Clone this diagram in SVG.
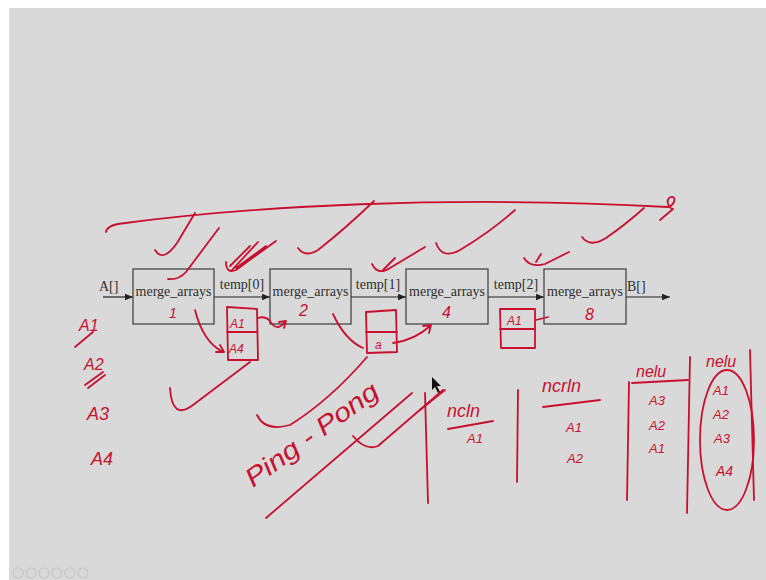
<svg xmlns="http://www.w3.org/2000/svg" width="766" height="580" viewBox="0 0 766 580">
<defs>
<style>
.box{fill:none;stroke:#3a3a3a;stroke-width:1.2}
.lbl{font-family:"Liberation Serif","DejaVu Serif",serif;font-size:14px;fill:#2e2e2e}
.ink{fill:none;stroke:#c8102e;stroke-width:1.8;stroke-linecap:round;stroke-linejoin:round}
.hw{font-family:"Liberation Sans","DejaVu Sans",sans-serif;font-style:italic;fill:#c8102e}
.edge{fill:none;stroke:#222;stroke-width:1.2}
</style>
<marker id="ah" viewBox="0 0 10 10" refX="10" refY="5" markerWidth="8" markerHeight="8" orient="auto" markerUnits="userSpaceOnUse">
<path d="M0,1 L10,5 L0,9 Z" fill="#222"/>
</marker>
</defs>
<rect width="766" height="580" fill="#ffffff"/>
<rect x="9" y="8" width="757" height="572" fill="#d9d9d9"/>

<g id="connectors">
<line class="edge" x1="103" y1="297" x2="133" y2="297" marker-end="url(#ah)"/>
<line class="edge" x1="214" y1="297" x2="270" y2="297" marker-end="url(#ah)"/>
<line class="edge" x1="351" y1="297" x2="406" y2="297" marker-end="url(#ah)"/>
<line class="edge" x1="488" y1="297" x2="544" y2="297" marker-end="url(#ah)"/>
<line class="edge" x1="626" y1="297" x2="670" y2="297" marker-end="url(#ah)"/>
<text class="lbl" x="99" y="291">A[]</text>
<text class="lbl" x="242" y="289" text-anchor="middle">temp[0]</text>
<text class="lbl" x="378" y="289" text-anchor="middle">temp[1]</text>
<text class="lbl" x="516" y="289" text-anchor="middle">temp[2]</text>
<text class="lbl" x="627" y="291">B[]</text>
</g>

<g id="merge1">
<rect class="box" x="133" y="269" width="81" height="55"/>
<text class="lbl" x="173.5" y="296" text-anchor="middle">merge_arrays</text>
</g>
<g id="merge2">
<rect class="box" x="270" y="269" width="81" height="55"/>
<text class="lbl" x="310.5" y="296" text-anchor="middle">merge_arrays</text>
</g>
<g id="merge3">
<rect class="box" x="406" y="269" width="82" height="55"/>
<text class="lbl" x="447" y="296" text-anchor="middle">merge_arrays</text>
</g>
<g id="merge4">
<rect class="box" x="544" y="269" width="82" height="55"/>
<text class="lbl" x="585" y="296" text-anchor="middle">merge_arrays</text>
</g>

<g id="annotations">
<!-- big arc on top -->
<path class="ink" d="M106,232 Q107,226 118,224 C250,206 450,195 668,207 C676,204 676,196 671,197 C665,199 668,208 673,209 L660,220"/>
<!-- swooshes -->
<path class="ink" d="M155,250 Q163,263 177,243 L195,213"/>
<path class="ink" d="M219,228 L186,272 Q179,280 168,279"/>
<path class="ink" d="M226,262 Q226,274 236,270 L276,241 M232,270 L258,242 M236,268 L266,246 M230,266 L250,246"/>
<path class="ink" d="M298,248 Q305,258 318,250 Q346,228 374,201"/>
<path class="ink" d="M372,264 Q378,276 390,268 L425,247 M383,270 L395,258"/>
<path class="ink" d="M436,243 Q442,260 460,250 Q490,232 515,210"/>
<path class="ink" d="M524,258 Q530,268 545,264 L569,252 M536,262 L541,254"/>
<path class="ink" d="M582,237 Q590,248 606,238 Q625,225 644,208"/>
<!-- numbers in boxes -->
<text class="hw" x="169" y="318" font-size="14">1</text>
<text class="hw" x="299" y="316" font-size="16">2</text>
<text class="hw" x="442" y="318" font-size="16">4</text>
<text class="hw" x="585" y="320" font-size="16">8</text>
<!-- temp[0] buffer -->
<path class="ink" d="M227,307 L257,309 L258,360 L228,360 Z M227,332 L257,332"/>
<text class="hw" x="230" y="328" font-size="12">A1</text>
<text class="hw" x="229" y="353" font-size="12">A4</text>
<path class="ink" d="M195,310 Q203,342 223,352 M216,352 L224,352 L220,345"/>
<path class="ink" d="M258,318 Q267,315 272,324 Q278,331 285,322 M279,322 L286,321 L284,328"/>
<!-- temp[1] buffer -->
<path class="ink" d="M366,312 L396,310 L397,352 L367,353 Z M366,332 L397,332"/>
<text class="hw" x="375" y="349" font-size="12">a</text>
<path class="ink" d="M333,314 Q345,340 363,348"/>
<path class="ink" d="M393,343 Q415,340 430,326 M423,326 L431,325 L429,333"/>
<!-- temp[2] buffer -->
<path class="ink" d="M500,309 L535,309 L535,348 L501,348 Z M500,329 L535,329"/>
<text class="hw" x="507" y="325" font-size="12">A1</text>
<path class="ink" d="M536,320 L548,317"/>
<!-- lower swooshes and Ping-Pong -->
<path class="ink" d="M170,388 Q172,421 193,405 L250,362"/>
<path class="ink" d="M257,415 Q265,432 290,425 Q330,400 367,357"/>
<text class="hw" font-size="26" transform="translate(253,488) rotate(-36)" textLength="158" lengthAdjust="spacingAndGlyphs">Ping - Pong</text>
<path class="ink" d="M266,518 L412,393"/>
<path class="ink" d="M353,436 Q365,451 378,446 L443,390"/>
<!-- cursor -->
<path d="M432,377 L432,390 L435,387 L438,393 L440,392 L437,386 L441,386 Z" fill="#111"/>
<!-- left column -->
<text class="hw" x="79" y="331" font-size="16">A1</text>
<path class="ink" d="M75,347 L93,332"/>
<text class="hw" x="84" y="370" font-size="16">A2</text>
<path class="ink" d="M85,385 L103,372 M88,388 L105,375"/>
<text class="hw" x="87" y="420" font-size="18">A3</text>
<text class="hw" x="91" y="465" font-size="18">A4</text>
<!-- right tables -->
<path class="ink" d="M425,393 L428,503 M420,410 L445,390"/>
<text class="hw" x="447" y="417" font-size="18">ncln</text>
<path class="ink" d="M448,429 L493,421"/>
<text class="hw" x="467" y="443" font-size="13">A1</text>
<path class="ink" d="M518,390 L517,482"/>
<text class="hw" x="542" y="392" font-size="18">ncrln</text>
<path class="ink" d="M543,407 L600,400"/>
<text class="hw" x="566" y="432" font-size="13">A1</text>
<text class="hw" x="567" y="463" font-size="13">A2</text>
<path class="ink" d="M629,382 L627,500"/>
<text class="hw" x="636" y="377" font-size="16">nelu</text>
<path class="ink" d="M632,383 L688,380"/>
<text class="hw" x="649" y="405" font-size="13">A3</text>
<text class="hw" x="649" y="430" font-size="13">A2</text>
<text class="hw" x="649" y="453" font-size="13">A1</text>
<path class="ink" d="M690,357 L687,513"/>
<text class="hw" x="706" y="367" font-size="16">nelu</text>
<ellipse class="ink" cx="727" cy="440" rx="27" ry="70"/>
<text class="hw" x="713" y="395" font-size="13">A1</text>
<text class="hw" x="713" y="419" font-size="13">A2</text>
<text class="hw" x="714" y="443" font-size="13">A3</text>
<text class="hw" x="716" y="476" font-size="14">A4</text>
<path class="ink" d="M750,350 L754,500"/>
</g>

<g id="toolbar" fill="none" stroke="#c6c6c6" stroke-width="1.2">
<circle cx="18" cy="573" r="5"/>
<circle cx="31" cy="573" r="5"/>
<circle cx="44" cy="573" r="5"/>
<circle cx="57" cy="573" r="5"/>
<circle cx="70" cy="573" r="5"/>
<circle cx="83" cy="573" r="5"/>
</g>
</svg>
